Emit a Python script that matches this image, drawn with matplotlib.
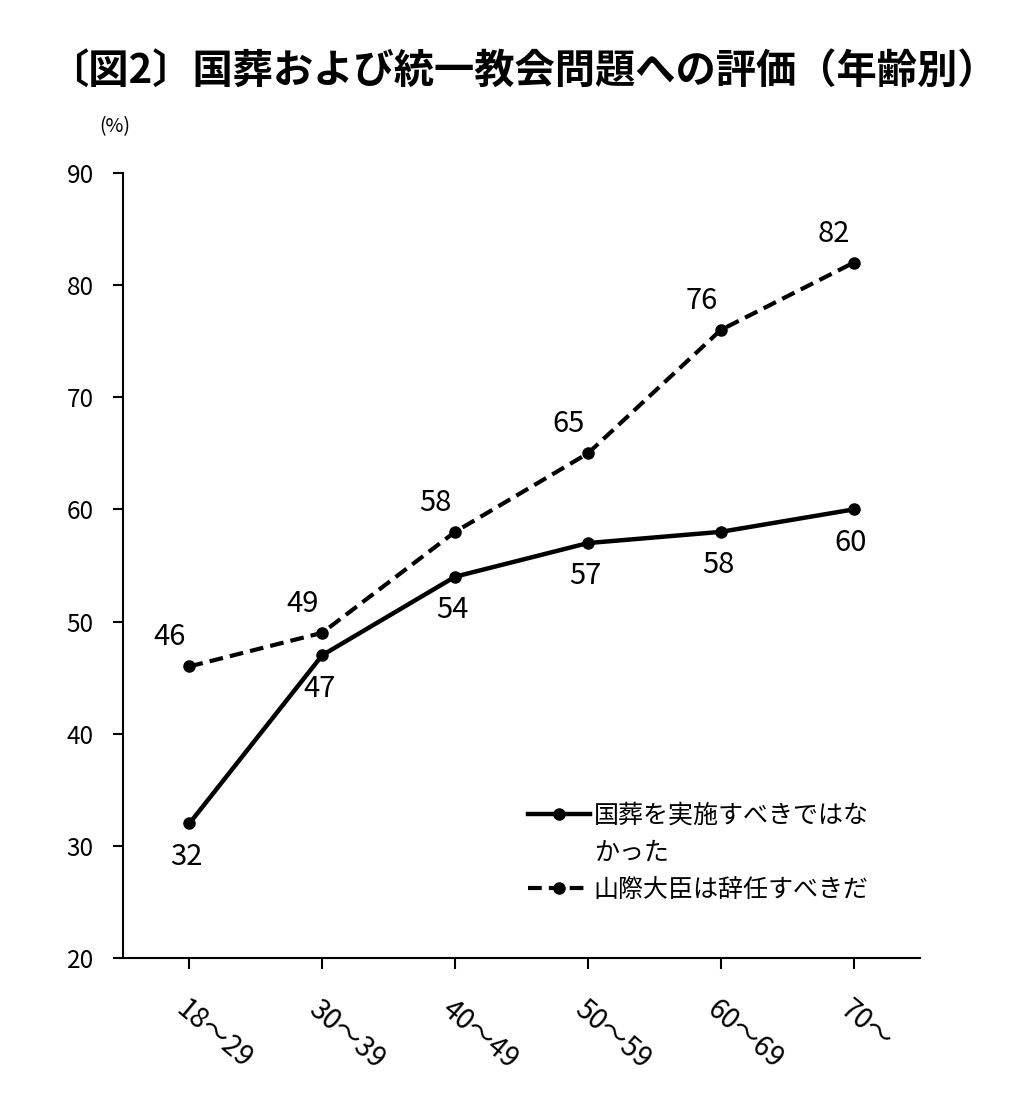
import matplotlib
matplotlib.use("Agg")
import matplotlib.pyplot as plt
from matplotlib.lines import Line2D

plt.rcParams['font.family'] = ['Noto Sans CJK JP', 'DejaVu Sans']

# ---------------------------------
# data
# ---------------------------------
ageGroups = ["18～29", "30～39", "40～49", "50～59", "60～69", "70～"]
funeralNo = [32, 47, 54, 57, 58, 60]
ministerResign = [46, 49, 58, 65, 76, 82]
labelFuneral = ["国葬を実施すべきではな", "かった"]
labelResign = "山際大臣は辞任すべきだ"
title = "〔図2〕国葬および統一教会問題への評価（年齢別）"

fig = plt.figure(figsize=(10.23, 11.09), dpi=100)
ax = fig.add_axes([123 / 1023, 1 - 958 / 1109, (920 - 123) / 1023, (958 - 173) / 1109])

x = list(range(len(ageGroups)))
lineA, = ax.plot(x, funeralNo, color="black", lw=3.2, marker="o", ms=8)
lineB, = ax.plot(x, ministerResign, color="black", lw=3.0, ls=(0, (3.3, 1.7)),
                 marker="o", ms=8)

# value labels: solid line below, dashed line above-left
for i in x:
    ax.annotate(str(funeralNo[i]), (i, funeralNo[i]), xytext=(-2, -24),
                textcoords="offset points", ha="center", va="center", fontsize=21)
    ax.annotate(str(ministerResign[i]), (i, ministerResign[i]), xytext=(-14, 21),
                textcoords="offset points", ha="center", va="center", fontsize=21)

ax.set_xlim(-0.5, 5.5)
ax.set_ylim(20, 90)
ax.set_yticks(range(20, 91, 10))
ax.set_xticks(x)
ax.set_xticklabels(ageGroups, rotation=-40, ha="left", va="top", rotation_mode="anchor",
                   fontsize=20)
ax.tick_params(axis="x", pad=18, length=8, width=1.5, direction="out")
ax.tick_params(axis="y", pad=14, length=7, width=1.5, direction="out", labelsize=17.5)
for side in ["top", "right"]:
    ax.spines[side].set_visible(False)
for side in ["left", "bottom"]:
    ax.spines[side].set_linewidth(1.5)

fig.text(115 / 1023, 1 - 127 / 1109, "(%)", ha="center", va="center", fontsize=14)
fig.text(523 / 1023, 1 - 72 / 1109, title, ha="center", va="center", fontsize=29,
         fontweight="bold")

# the first label wraps; put the handle on its first line with an empty entry below
blank = Line2D([], [], color="none")
leg = ax.legend([lineA, blank, lineB], [labelFuneral[0], labelFuneral[1], labelResign],
                loc="upper left", bbox_to_anchor=(505 / 1023, 1 - 780 / 1109),
                bbox_transform=fig.transFigure, frameon=False, fontsize=18,
                handlelength=2.5, handletextpad=0.15, labelspacing=0.45)

plt.savefig("out.png", dpi=100)
